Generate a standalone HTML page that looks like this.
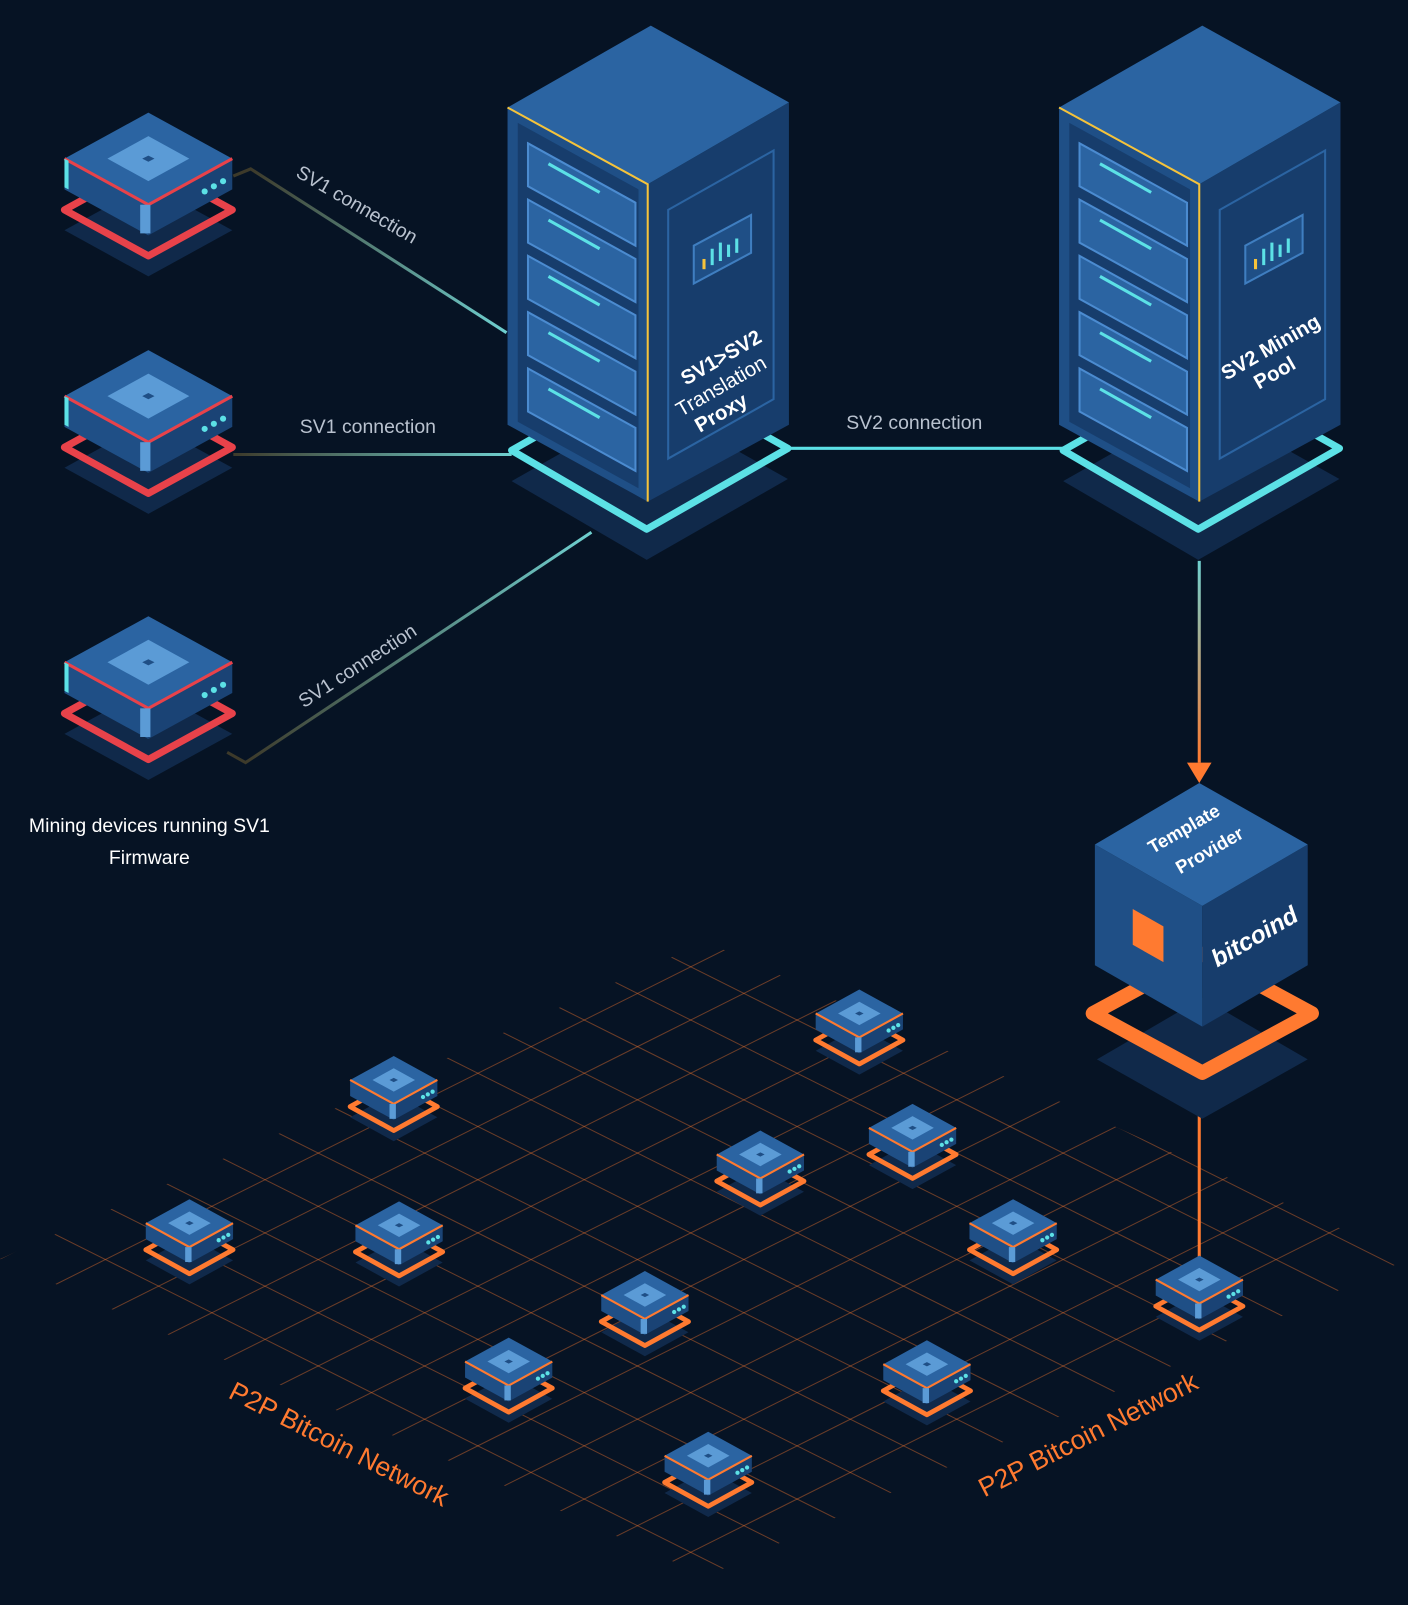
<!DOCTYPE html>
<html><head><meta charset="utf-8"><style>
html,body{margin:0;padding:0;background:#061324;overflow:hidden;width:1408px;height:1605px}
svg{display:block}
text{font-family:"Liberation Sans",sans-serif}
</style></head><body>
<svg width="1408" height="1605" viewBox="0 0 1376 1568" preserveAspectRatio="none" xmlns="http://www.w3.org/2000/svg">
<defs>
<linearGradient id="ga" gradientUnits="userSpaceOnUse" x1="245" y1="165" x2="495" y2="325"><stop offset="0" stop-color="#3d3a2a"/><stop offset="1" stop-color="#6fd0d0"/></linearGradient>
<linearGradient id="gb" gradientUnits="userSpaceOnUse" x1="228" y1="444" x2="500" y2="444"><stop offset="0" stop-color="#3d3a2a"/><stop offset="1" stop-color="#6fd0d0"/></linearGradient>
<linearGradient id="gd" gradientUnits="userSpaceOnUse" x1="240" y1="745" x2="578" y2="520"><stop offset="0" stop-color="#3d3a2a"/><stop offset="1" stop-color="#6fd0d0"/></linearGradient>
<linearGradient id="g2" gradientUnits="userSpaceOnUse" x1="0" y1="548" x2="0" y2="745"><stop offset="0" stop-color="#6fd0d0"/><stop offset="1" stop-color="#ff7a30"/></linearGradient>
<clipPath id="gc"><polygon points="0,1230 690,920 1376,1230 690,1540"/></clipPath>
<g id="dev">
  <polygon points="-82,70 0,25 82,70 0,115" fill="#10294a"/>
  <polygon points="-82,50 0,5 82,50 0,95" fill="none" stroke="#e8424a" stroke-width="7" stroke-linejoin="round"/>
  <polygon points="-82,0 0,45 0,75 -82,30" fill="#1f4f86"/>
  <polygon points="0,45 82,0 82,30 0,75" fill="#1a4375"/>
  <polygon points="-82,0 0,-45 82,0 0,45" fill="#2b64a2"/>
  <polyline points="-82,0 0,45 82,0" fill="none" stroke="#e8424a" stroke-width="3"/>
  <polygon points="-40,0 0,-22 40,0 0,22" fill="#5b9bd6"/>
  <polygon points="-6,0 0,-3 6,0 0,3" fill="#1f4f86"/>
  <rect x="-8" y="45" width="10" height="28" fill="#5b9bd6"/>
  <polygon points="-82,0 -78,2 -78,30 -82,28" fill="#5ce1e6"/>
  <circle cx="55" cy="32" r="3" fill="#5ce1e6"/><circle cx="64" cy="27" r="3" fill="#5ce1e6"/><circle cx="73" cy="22" r="3" fill="#5ce1e6"/>
</g>
<g id="node">
  <polygon points="-82,70 0,25 82,70 0,115" fill="#10294a"/>
  <polygon points="-82,50 0,5 82,50 0,95" fill="none" stroke="#ff7a30" stroke-width="9" stroke-linejoin="round"/>
  <polygon points="-82,0 0,45 0,75 -82,30" fill="#1f4f86"/>
  <polygon points="0,45 82,0 82,30 0,75" fill="#1a4375"/>
  <polygon points="-82,0 0,-45 82,0 0,45" fill="#2b64a2"/>
  <polyline points="-82,0 0,45 82,0" fill="none" stroke="#ff7a30" stroke-width="4"/>
  <polygon points="-40,0 0,-22 40,0 0,22" fill="#5b9bd6"/>
  <polygon points="-8,0 0,-4 8,0 0,4" fill="#1f4f86"/>
  <rect x="-8" y="45" width="12" height="28" fill="#5b9bd6"/>
  <circle cx="55" cy="32" r="4" fill="#5ce1e6"/><circle cx="64" cy="27" r="4" fill="#5ce1e6"/><circle cx="73" cy="22" r="4" fill="#5ce1e6"/>
</g>
<g id="rack">
  <polygon points="4,445 136,522 274,443 140,368" fill="#10294a"/>
  <polygon points="4,415 136,492 274,413 140,338" fill="none" stroke="#5ce1e6" stroke-width="7" stroke-linejoin="round"/>
  <polygon points="0,80 137,155 137,465 0,390" fill="#1f4f86"/>
  <polygon points="137,155 275,75 275,390 137,465" fill="#173d6c"/>
  <polygon points="0,80 140,0 275,75 137,155" fill="#2b64a2"/>
  <polyline points="0,80 137,155 137,465" fill="none" stroke="#f5c33b" stroke-width="2"/>
  <polygon points="10,95 128,160 128,452 10,387" fill="#173d6c"/>
  <g fill="#2b64a2" stroke="#4b8bd0" stroke-width="2">
    <polygon points="20,115 125,173 125,215 20,157"/>
    <polygon points="20,170 125,228 125,270 20,212"/>
    <polygon points="20,225 125,283 125,325 20,267"/>
    <polygon points="20,280 125,338 125,380 20,322"/>
    <polygon points="20,335 125,393 125,435 20,377"/>
  </g>
  <g stroke="#5ce1e6" stroke-width="3">
    <line x1="40" y1="135" x2="90" y2="163"/><line x1="40" y1="190" x2="90" y2="218"/><line x1="40" y1="245" x2="90" y2="273"/><line x1="40" y1="300" x2="90" y2="328"/><line x1="40" y1="355" x2="90" y2="383"/>
  </g>
  <polygon points="157,180 260,122 260,365 157,423" fill="none" stroke="#2b64a2" stroke-width="2"/>
  <polygon points="182,215 238,185 238,222 182,252" fill="#1f4f86" stroke="#3f7ec0" stroke-width="2"/>
  <g stroke-width="3"><line x1="192" y1="238" x2="192" y2="228" stroke="#f5c33b"/><line x1="200" y1="234" x2="200" y2="218" stroke="#5ce1e6"/><line x1="208" y1="230" x2="208" y2="212" stroke="#5ce1e6"/><line x1="216" y1="226" x2="216" y2="214" stroke="#5ce1e6"/><line x1="224" y1="222" x2="224" y2="208" stroke="#5ce1e6"/></g>
</g>
</defs>

<!-- grid -->
<g clip-path="url(#gc)" stroke="#ff7a30" stroke-opacity="0.4" stroke-width="1">
<line x1="0" y1="555" x2="1376" y2="1243"/><line x1="0" y1="607" x2="1376" y2="1295"/><line x1="0" y1="659" x2="1376" y2="1347"/><line x1="0" y1="711" x2="1376" y2="1399"/><line x1="0" y1="763" x2="1376" y2="1451"/><line x1="0" y1="815" x2="1376" y2="1503"/><line x1="0" y1="867" x2="1376" y2="1555"/><line x1="0" y1="919" x2="1376" y2="1607"/><line x1="0" y1="971" x2="1376" y2="1659"/><line x1="0" y1="1023" x2="1376" y2="1711"/><line x1="0" y1="1075" x2="1376" y2="1763"/><line x1="0" y1="1127" x2="1376" y2="1815"/><line x1="0" y1="1179" x2="1376" y2="1867"/>
<line x1="0" y1="1230" x2="1376" y2="542"/><line x1="0" y1="1282" x2="1376" y2="594"/><line x1="0" y1="1334" x2="1376" y2="646"/><line x1="0" y1="1386" x2="1376" y2="698"/><line x1="0" y1="1438" x2="1376" y2="750"/><line x1="0" y1="1490" x2="1376" y2="802"/><line x1="0" y1="1542" x2="1376" y2="854"/><line x1="0" y1="1594" x2="1376" y2="906"/><line x1="0" y1="1646" x2="1376" y2="958"/><line x1="0" y1="1698" x2="1376" y2="1010"/><line x1="0" y1="1750" x2="1376" y2="1062"/><line x1="0" y1="1802" x2="1376" y2="1114"/><line x1="0" y1="1854" x2="1376" y2="1166"/>
</g>

<!-- connections -->
<g fill="none" stroke-width="3">
<polyline points="228,172 245,165 495,325" stroke="url(#ga)"/>
<line x1="228" y1="444" x2="500" y2="444" stroke="url(#gb)"/>
<polyline points="222,735 240,745 578,520" stroke="url(#gd)"/>
<line x1="770" y1="438" x2="1040" y2="438" stroke="#5ce1e6"/>
<line x1="1172" y1="548" x2="1172" y2="745" stroke="url(#g2)"/>
<line x1="1172" y1="1055" x2="1172" y2="1232" stroke="#ff7a30"/>
</g>
<polygon points="1160,745 1184,745 1172,765" fill="#ff7a30"/>

<use href="#dev" x="145" y="155"/>
<use href="#dev" x="145" y="387"/>
<use href="#dev" x="145" y="647"/>

<g transform="translate(496,25)"><use href="#rack"/>
<text transform="translate(212,330) rotate(-30)" fill="#fff" font-size="20" font-weight="bold" text-anchor="middle">SV1&gt;SV2</text>
<text transform="translate(212,358) rotate(-30)" fill="#fff" font-size="20" text-anchor="middle">Translation</text>
<text transform="translate(212,384) rotate(-30)" fill="#fff" font-size="20" font-weight="bold" text-anchor="middle">Proxy</text>
</g>
<g transform="translate(1035,25)"><use href="#rack"/>
<text transform="translate(210,320) rotate(-30)" fill="#fff" font-size="20" font-weight="bold" text-anchor="middle">SV2 Mining</text>
<text transform="translate(214,345) rotate(-30)" fill="#fff" font-size="20" font-weight="bold" text-anchor="middle">Pool</text>
</g>

<!-- template provider -->
<polygon points="1072,1035 1175,975 1278,1035 1175,1093" fill="#10294a"/>
<polygon points="1068,990 1175,932 1282,990 1175,1048" fill="none" stroke="#ff7a30" stroke-width="14" stroke-linejoin="round"/>
<polygon points="1070,825 1175,885 1175,1003 1070,943" fill="#1f4f86"/>
<polygon points="1175,885 1278,825 1278,943 1175,1003" fill="#173d6c"/>
<polygon points="1070,825 1172,765 1278,825 1175,885" fill="#2b64a2"/>
<polygon points="1107,888 1137,905 1137,940 1107,923" fill="#ff7a30"/>
<text transform="translate(1160,815) rotate(-30)" fill="#fff" font-size="18" font-weight="bold" text-anchor="middle">Template</text>
<text transform="translate(1185,836) rotate(-30)" fill="#fff" font-size="18" font-weight="bold" text-anchor="middle">Provider</text>
<text transform="translate(1230,922) rotate(-30)" fill="#fff" font-size="24" font-weight="bold" font-style="italic" text-anchor="middle">bitcoind</text>

<!-- nodes -->
<g transform="scale(0.52)">
<use href="#node" x="740" y="2029"/><use href="#node" x="1615" y="1904"/><use href="#node" x="1715" y="2119"/><use href="#node" x="1429" y="2169"/><use href="#node" x="356" y="2298"/><use href="#node" x="750" y="2302"/><use href="#node" x="1904" y="2298"/><use href="#node" x="1212" y="2433"/><use href="#node" x="2254" y="2404"/><use href="#node" x="956" y="2558"/><use href="#node" x="1742" y="2563"/><use href="#node" x="1331" y="2735"/>
</g>

<!-- labels -->
<g fill="#b9c2cf" font-size="19">
<text transform="translate(288,172) rotate(30)">SV1 connection</text>
<text x="293" y="423">SV1 connection</text>
<text transform="translate(297,692) rotate(-33)">SV1 connection</text>
<text x="827" y="419">SV2 connection</text>
</g>
<text x="146" y="813" fill="#fff" font-size="19" text-anchor="middle">Mining devices running SV1</text>
<text x="146" y="844" fill="#fff" font-size="19" text-anchor="middle">Firmware</text>
<text transform="translate(222,1365) rotate(27)" fill="#ff7a30" font-size="26">P2P Bitcoin Network</text>
<text transform="translate(962,1463) rotate(-27)" fill="#ff7a30" font-size="26">P2P Bitcoin Network</text>
</svg>
</body></html>
